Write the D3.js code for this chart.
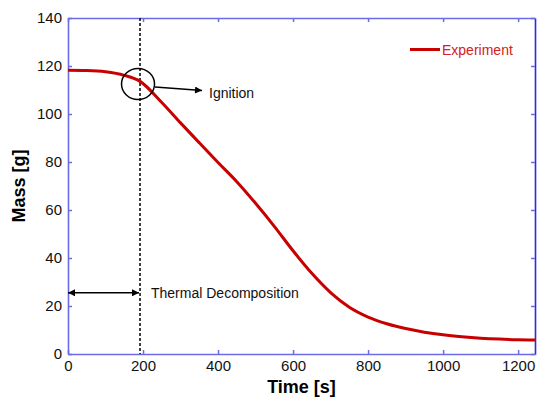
<!DOCTYPE html>
<html>
<head>
<meta charset="utf-8">
<script src="https://cdn.jsdelivr.net/npm/d3@7"></script>
<style>
  body { margin: 0; background: #fff; }
  svg { display: block; font-family: "Liberation Sans", Arial, sans-serif; }
</style>
</head>
<body>
<svg id="chart"></svg>
<script>
// données
const times  = [0, 50, 100, 150, 192, 250, 300, 350, 400, 450, 500, 550, 600, 650, 700, 750, 800, 850, 900, 950, 1000, 1050, 1100, 1150, 1200, 1245]
const masses = [118.2, 118.1, 117.6, 116.1, 113.6, 104.8, 96.3, 88, 79.8, 71.8, 62.8, 53.2, 43, 33.6, 25.6, 19.5, 15.4, 12.6, 10.6, 9.1, 8, 7.2, 6.6, 6.2, 5.95, 5.8]
const xTicks = [0, 200, 400, 600, 800, 1000, 1200]
const yTicks = [0, 20, 40, 60, 80, 100, 120, 140]
const seriesName = 'Experiment'
const ignitionTime = 192
const ignitionMass = 112.5

const width = 537, height = 399
const margin = {top: 18, right: 2, bottom: 45, left: 68}

const svg = d3.select('#chart').attr('width', width).attr('height', height)

const xScale = d3.scaleLinear().domain([0, 1245]).range([margin.left, width - margin.right])
const yScale = d3.scaleLinear().domain([0, 140]).range([height - margin.bottom, margin.top])

const axisColor = '#6b6be8'

/* axes : graduations vers l'intérieur */
const axisB = svg.append('g')
  .attr('transform', 'translate(0,' + (height - margin.bottom) + ')')
  .call(d3.axisBottom(xScale).tickValues(xTicks).tickFormat(d3.format('d')).tickSizeInner(-4).tickSizeOuter(0).tickPadding(6))
const axisL = svg.append('g')
  .attr('transform', 'translate(' + margin.left + ',0)')
  .call(d3.axisLeft(yScale).tickValues(yTicks).tickSizeInner(-4).tickSizeOuter(0).tickPadding(6))
const axisT = svg.append('g')
  .attr('transform', 'translate(0,' + margin.top + ')')
  .call(d3.axisTop(xScale).tickValues(xTicks).tickSizeInner(-4).tickSizeOuter(0).tickFormat(''))
const axisR = svg.append('g')
  .attr('transform', 'translate(' + (width - margin.right) + ',0)')
  .call(d3.axisRight(yScale).tickValues(yTicks).tickSizeInner(-4).tickSizeOuter(0).tickFormat(''))

;[axisB, axisL, axisT, axisR].forEach(g => {
  g.selectAll('path.domain').attr('stroke', axisColor).attr('stroke-width', 1.6)
  g.selectAll('.tick line').attr('stroke', axisColor).attr('stroke-width', 1.5)
  g.selectAll('.tick text').attr('fill', '#111').style('font-size', '15px')
})
axisR.selectAll('path.domain').attr('stroke', '#2a2ae0')

/* titres des axes */
svg.append('text')
  .attr('x', (margin.left + width - margin.right) / 2)
  .attr('y', 393)
  .attr('text-anchor', 'middle')
  .style('font-size', '18px').style('font-weight', 'bold')
  .text('Time [s]')

svg.append('text')
  .attr('transform', 'rotate(-90)')
  .attr('x', -(margin.top + height - margin.bottom) / 2)
  .attr('y', 25)
  .attr('text-anchor', 'middle')
  .style('font-size', '18px').style('font-weight', 'bold')
  .text('Mass [g]')

/* marqueurs de flèche */
const defs = svg.append('defs')
const mk = (id, orient) => defs.append('marker')
  .attr('id', id).attr('viewBox', '0 0 10 10')
  .attr('refX', 10).attr('refY', 5)
  .attr('markerWidth', 10).attr('markerHeight', 7)
  .attr('markerUnits', 'userSpaceOnUse')
  .attr('orient', orient)
  .append('path').attr('d', 'M0,0 L10,5 L0,10 z').attr('fill', '#000')
mk('arrow', 'auto')
mk('arrowStart', 'auto-start-reverse')

/* ligne pointillée à l'allumage */
svg.append('line')
  .attr('x1', xScale(ignitionTime)).attr('x2', xScale(ignitionTime))
  .attr('y1', yScale(140)).attr('y2', yScale(0))
  .attr('stroke', '#000').attr('stroke-width', 1.5)
  .attr('stroke-dasharray', '3,2')

/* courbe */
const line = d3.line().x((d, i) => xScale(times[i])).y(d => yScale(d)).curve(d3.curveMonotoneX)
svg.append('path')
  .datum(masses)
  .attr('d', line)
  .attr('fill', 'none')
  .attr('stroke', '#c80000')
  .attr('stroke-width', 3)

/* cercle + flèche Ignition */
const cx = xScale(ignitionTime) - 2, cy = yScale(ignitionMass)
svg.append('ellipse')
  .attr('cx', cx).attr('cy', cy).attr('rx', 16.5).attr('ry', 15.5)
  .attr('fill', 'none').attr('stroke', '#000').attr('stroke-width', 1.5)
svg.append('line')
  .attr('x1', cx + 17).attr('y1', cy + 3)
  .attr('x2', cx + 64).attr('y2', cy + 6.5)
  .attr('stroke', '#000').attr('stroke-width', 1.5)
  .attr('marker-end', 'url(#arrow)')
svg.append('text')
  .attr('x', 209).attr('y', 98)
  .style('font-size', '14px').attr('fill', '#111')
  .text('Ignition')

/* flèche double Thermal Decomposition */
svg.append('line')
  .attr('x1', xScale(0)).attr('x2', xScale(ignitionTime) - 1)
  .attr('y1', yScale(25.5)).attr('y2', yScale(25.5))
  .attr('stroke', '#000').attr('stroke-width', 1.5)
  .attr('marker-start', 'url(#arrowStart)')
  .attr('marker-end', 'url(#arrow)')
svg.append('text')
  .attr('x', 151).attr('y', 298)
  .style('font-size', '14px').attr('fill', '#111')
  .text('Thermal Decomposition')

/* légende */
svg.append('line')
  .attr('x1', 410).attr('x2', 440).attr('y1', 49.5).attr('y2', 49.5)
  .attr('stroke', '#c80000').attr('stroke-width', 3)
svg.append('text')
  .attr('x', 442).attr('y', 54.5)
  .style('font-size', '14px').attr('fill', '#d42020')
  .text(seriesName)
</script>
</body>
</html>
